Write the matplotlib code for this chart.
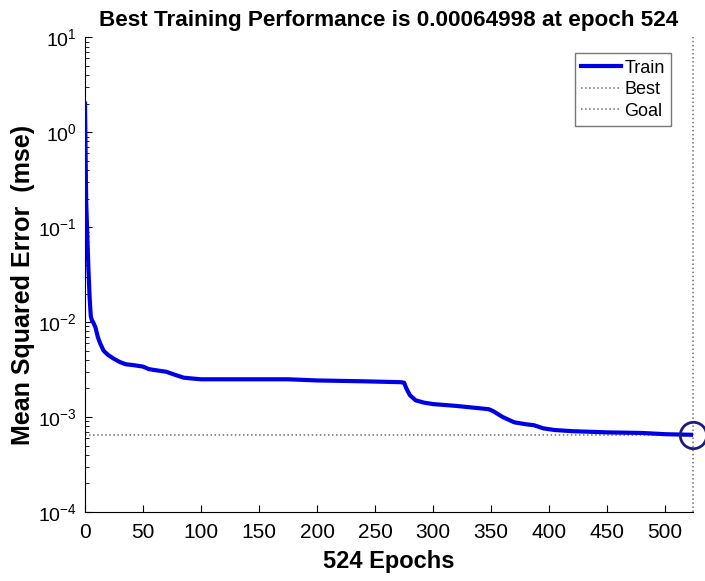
import matplotlib
matplotlib.use("Agg")
import matplotlib.pyplot as plt
import numpy as np

plt.rcParams['font.family'] = ['Liberation Sans', 'DejaVu Sans']

# Training performance (mse)
epochs = [0, 1, 2, 3, 4, 5, 6, 7, 9, 11, 13, 16, 20, 25, 30, 35, 42, 50, 55, 62,
          70, 77, 85, 92, 100, 130, 175, 200, 240, 272, 275, 277, 280, 285, 292,
          300, 320, 348, 352, 360, 370, 380, 387, 395, 405, 420, 450, 480, 500, 524]
mse = [2.0, 0.19, 0.08, 0.035, 0.018, 0.0115, 0.0104, 0.0100, 0.0088, 0.0070,
       0.0060, 0.0050, 0.0045, 0.0041, 0.0038, 0.0036, 0.00352, 0.0034, 0.0032, 0.0031,
       0.0030, 0.0028, 0.0026, 0.00255, 0.0025, 0.0025, 0.0025, 0.00243, 0.00238, 0.00233,
       0.0023, 0.0020, 0.0017, 0.0015, 0.00142, 0.00137, 0.00131, 0.00121, 0.00115, 0.00100,
       0.00088, 0.00084, 0.00082, 0.00076, 0.00073, 0.00071, 0.00069, 0.00068, 0.00066, 0.00064998]
best_epoch = 524
best_perf = 0.00064998
x_ticks = [0, 50, 100, 150, 200, 250, 300, 350, 400, 450, 500]

fig = plt.figure(figsize=(7.05, 5.81), dpi=100)
ax = fig.add_axes([85/705, 1-512/581, 608/705, (512-37.3)/581])

ax.plot(epochs, mse, color='#0000e6', lw=3.0, label='Train', zorder=3)
ax.plot([0, best_epoch], [best_perf, best_perf], color='#707070', ls=':', lw=1.1, label='Best')
ax.plot([best_epoch, best_epoch], [1e-4, 1e1], color='#707070', ls=':', lw=1.1, clip_on=False)
ax.plot([], [], color='#707070', ls=':', lw=1.1, label='Goal')
ax.plot([best_epoch], [best_perf], 'o', ms=19, mfc='none', mec='#1c1c7c', mew=2.0,
        clip_on=False, zorder=4)

ax.set_yscale('log')
ax.set_xlim(0, best_epoch)
ax.set_ylim(1e-4, 1e1)
ax.set_xticks(x_ticks)
ax.tick_params(axis='both', which='both', direction='in')
ax.tick_params(axis='x', which='major', length=5, pad=8, labelsize=15)
ax.tick_params(axis='y', which='major', length=5, pad=6, labelsize=14)
ax.tick_params(axis='y', which='minor', length=3)
ax.spines['top'].set_visible(False)
ax.spines['right'].set_visible(False)

ax.set_title('Best Training Performance is 0.00064998 at epoch 524',
             fontsize=16.2, fontweight='bold', pad=8)
ax.set_xlabel('524 Epochs', fontsize=17, fontweight='bold', labelpad=6)
ax.set_ylabel('Mean Squared Error  (mse)', fontsize=18, fontweight='bold')
ax.yaxis.set_label_coords(-0.083, 0.478)

leg = ax.legend(loc='upper right', bbox_to_anchor=(0.964, 0.966), fontsize=13,
                frameon=True, fancybox=False, edgecolor='#555555', handlelength=2.2,
                borderpad=0.35, labelspacing=0.25, handletextpad=0.2, borderaxespad=0)
leg.get_frame().set_linewidth(1.0)

fig.savefig('out.png', dpi=100)
